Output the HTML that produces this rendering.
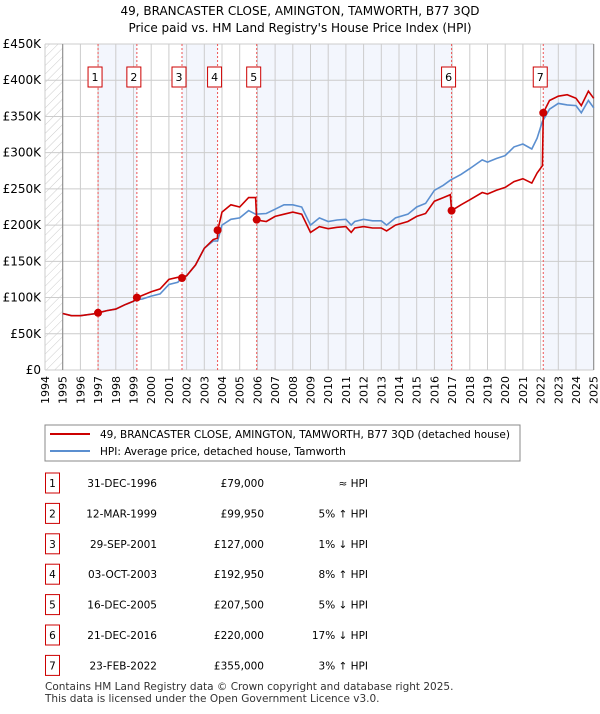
<!DOCTYPE html>
<html><head><meta charset="utf-8"><style>
body{margin:0;background:#fff;font-family:"DejaVu Sans","Liberation Sans",sans-serif;}
svg text{font-family:"DejaVu Sans","Liberation Sans",sans-serif;}
</style></head><body>
<svg id="c" width="600" height="710" xmlns="http://www.w3.org/2000/svg">
<defs><pattern id="hatch" width="6" height="6" patternUnits="userSpaceOnUse" patternTransform="rotate(45)"><line x1="0" y1="0" x2="0" y2="6" stroke="#ccc" stroke-width="1"/></pattern></defs>
<text x="300" y="15" text-anchor="middle" font-size="12">49, BRANCASTER CLOSE, AMINGTON, TAMWORTH, B77 3QD</text>
<text x="300" y="32" text-anchor="middle" font-size="12">Price paid vs. HM Land Registry's House Price Index (HPI)</text>
<g id="plot"></g>
<rect x="45" y="425" width="475" height="36" fill="#fff" stroke="#888"/>
<line x1="50" y1="434" x2="90" y2="434" stroke="#cc0000" stroke-width="2"/>
<text x="100" y="438" font-size="10.5">49, BRANCASTER CLOSE, AMINGTON, TAMWORTH, B77 3QD (detached house)</text>
<line x1="50" y1="451" x2="90" y2="451" stroke="#5b8fd0" stroke-width="2"/>
<text x="100" y="455" font-size="10.5">HPI: Average price, detached house, Tamworth</text>
<g id="table"></g>
<text x="45" y="690" font-size="10.5" fill="#333">Contains HM Land Registry data © Crown copyright and database right 2025.</text>
<text x="45" y="702" font-size="10.5" fill="#333">This data is licensed under the Open Government Licence v3.0.</text>
</svg>
<script>
const years=[1994,1995,1996,1997,1998,1999,2000,2001,2002,2003,2004,2005,2006,2007,2008,2009,2010,2011,2012,2013,2014,2015,2016,2017,2018,2019,2020,2021,2022,2023,2024,2025];
const yTicks=[0,50,100,150,200,250,300,350,400,450];
const yTickLabels=["£0","£50K","£100K","£150K","£200K","£250K","£300K","£350K","£400K","£450K"];
const hpiT=[1995,1995.5,1996,1996.9,1997,1997.5,1998,1998.5,1999,1999.2,1999.5,2000,2000.5,2001,2001.5,2001.75,2002,2002.5,2003,2003.5,2003.75,2004,2004.5,2005,2005.5,2005.9,2006.5,2007,2007.5,2008,2008.5,2009,2009.5,2010,2010.5,2011,2011.3,2011.5,2012,2012.5,2013,2013.3,2013.8,2014.5,2015,2015.5,2016,2016.5,2016.9,2017.5,2018,2018.7,2019,2019.5,2020,2020.5,2021,2021.5,2021.8,2022.1,2022.5,2023,2023.5,2024,2024.3,2024.7,2025];
const hpiV=[78,75,75,78,79,82,84,90,95,97,98,102,105,118,121,128,130,145,168,178,178,200,208,210,220,215,216,222,228,228,225,200,210,205,207,208,200,205,208,206,206,200,210,215,225,230,248,255,262,270,278,290,287,292,296,308,312,305,320,343,360,368,366,365,355,372,362];
const redT=[1995,1995.5,1996,1996.9,1997,1997.5,1998,1998.5,1999,1999.2,1999.5,2000,2000.5,2001,2001.5,2001.75,2002,2002.5,2003,2003.5,2003.74,2003.76,2004,2004.5,2005,2005.5,2005.9,2005.96,2006.5,2007,2007.5,2008,2008.5,2009,2009.5,2010,2010.5,2011,2011.3,2011.5,2012,2012.5,2013,2013.3,2013.8,2014.5,2015,2015.5,2016,2016.5,2016.9,2016.97,2017.5,2018,2018.7,2019,2019.5,2020,2020.5,2021,2021.5,2021.8,2022.1,2022.15,2022.5,2023,2023.5,2024,2024.3,2024.7,2025];
const redV=[78,75,75,78,79,82,84,90,95,100,103,108,112,125,128,128,130,145,168,180,182,193,218,228,225,238,238,207,205,212,215,218,215,190,198,195,197,198,190,196,198,196,196,192,200,205,212,216,233,238,242,220,228,235,245,243,248,252,260,264,258,272,282,355,372,378,380,375,365,385,375];
const saleT=[1996.997,1999.19,2001.74,2003.75,2005.96,2016.97,2022.15];
const saleV=[79,99.95,127,192.95,207.5,220,355];
const saleDates=["31-DEC-1996","12-MAR-1999","29-SEP-2001","03-OCT-2003","16-DEC-2005","21-DEC-2016","23-FEB-2022"];
const salePrices=["£79,000","£99,950","£127,000","£192,950","£207,500","£220,000","£355,000"];
const saleRel=["≈ HPI","5% ↑ HPI","1% ↓ HPI","8% ↑ HPI","5% ↓ HPI","17% ↓ HPI","3% ↑ HPI"];
const NS="http://www.w3.org/2000/svg";
const L=45,R=593.7,T=44,B=370;
const X=t=>L+(t-1994)*(R-L)/31;
const Y=v=>B-v*(B-T)/450;
function mk(tag,attrs,parent){const e=document.createElementNS(NS,tag);for(const k in attrs)e.setAttribute(k,attrs[k]);parent.appendChild(e);return e;}
const p=document.getElementById('plot');
const bands=[[saleT[0],saleT[1]],[saleT[2],saleT[3]],[saleT[4],saleT[5]],[saleT[6],2025]];
bands.forEach((b,i)=>{const r=mk('rect',{x:X(b[0]),y:T,width:X(b[1])-X(b[0]),height:B-T,fill:'#f3f6fd'},p);

});
const h=mk('rect',{x:L,y:T,width:X(1995)-L,height:B-T,fill:'url(#hatch)'},p);


years.forEach(yr=>{const l=mk('line',{x1:X(yr),y1:T,x2:X(yr),y2:B,stroke:'#ccc'},p);


const t=mk('text',{x:0,y:0,'font-size':11,'text-anchor':'end',transform:`translate(${X(yr)+4},${B+6}) rotate(-90)`},p);t.textContent=yr;

});
yTicks.forEach((v,i)=>{const l=mk('line',{x1:L,y1:Y(v),x2:R,y2:Y(v),stroke:'#ccc'},p);


const t=mk('text',{x:L-4,y:Y(v)+4,'font-size':12,'text-anchor':'end'},p);t.textContent=yTickLabels[i];

});
mk('line',{x1:X(1995),y1:T,x2:X(1995),y2:B,stroke:'#888'},p);
mk('line',{x1:R,y1:T,x2:R,y2:B,stroke:'#888'},p);
saleT.forEach(t=>{const l=mk('line',{x1:X(t),y1:T,x2:X(t),y2:B,stroke:'#e55','stroke-dasharray':'2,2','stroke-width':1},p);

});
const pts=(ts,vs)=>ts.map((t,i)=>X(t).toFixed(1)+','+Y(vs[i]).toFixed(1)).join(' ');
const hl=mk('polyline',{points:pts(hpiT,hpiV),fill:'none',stroke:'#5b8fd0','stroke-width':1.6},p);


const rl=mk('polyline',{points:pts(redT,redV),fill:'none',stroke:'#cc0000','stroke-width':1.6},p);


saleT.forEach((t,i)=>{const c=mk('circle',{cx:X(t),cy:Y(saleV[i]),r:4,fill:'#cc0000'},p);


const bx=X(t)-3;
const r=mk('rect',{x:bx-7,y:67,width:14,height:20,fill:'#fff',stroke:'#cc0000'},p);


const tx=mk('text',{x:bx,y:81,'font-size':11,'text-anchor':'middle'},p);tx.textContent=i+1;

});
const tb=document.getElementById('table');
saleDates.forEach((d,i)=>{const cy=483+i*30.4;
const r=mk('rect',{x:45.5,y:cy-10,width:14,height:20,fill:'#fff',stroke:'#cc0000'},tb);


const n=mk('text',{x:52.5,y:cy+4,'font-size':10.5,'text-anchor':'middle'},tb);n.textContent=i+1;


const a=mk('text',{x:157,y:cy+4,'font-size':10.5,'text-anchor':'end'},tb);a.textContent=d;


const b=mk('text',{x:264,y:cy+4,'font-size':10.5,'text-anchor':'end'},tb);b.textContent=salePrices[i];


const c=mk('text',{x:368,y:cy+4,'font-size':10.5,'text-anchor':'end'},tb);c.textContent=saleRel[i];

});
</script>
</body></html>
